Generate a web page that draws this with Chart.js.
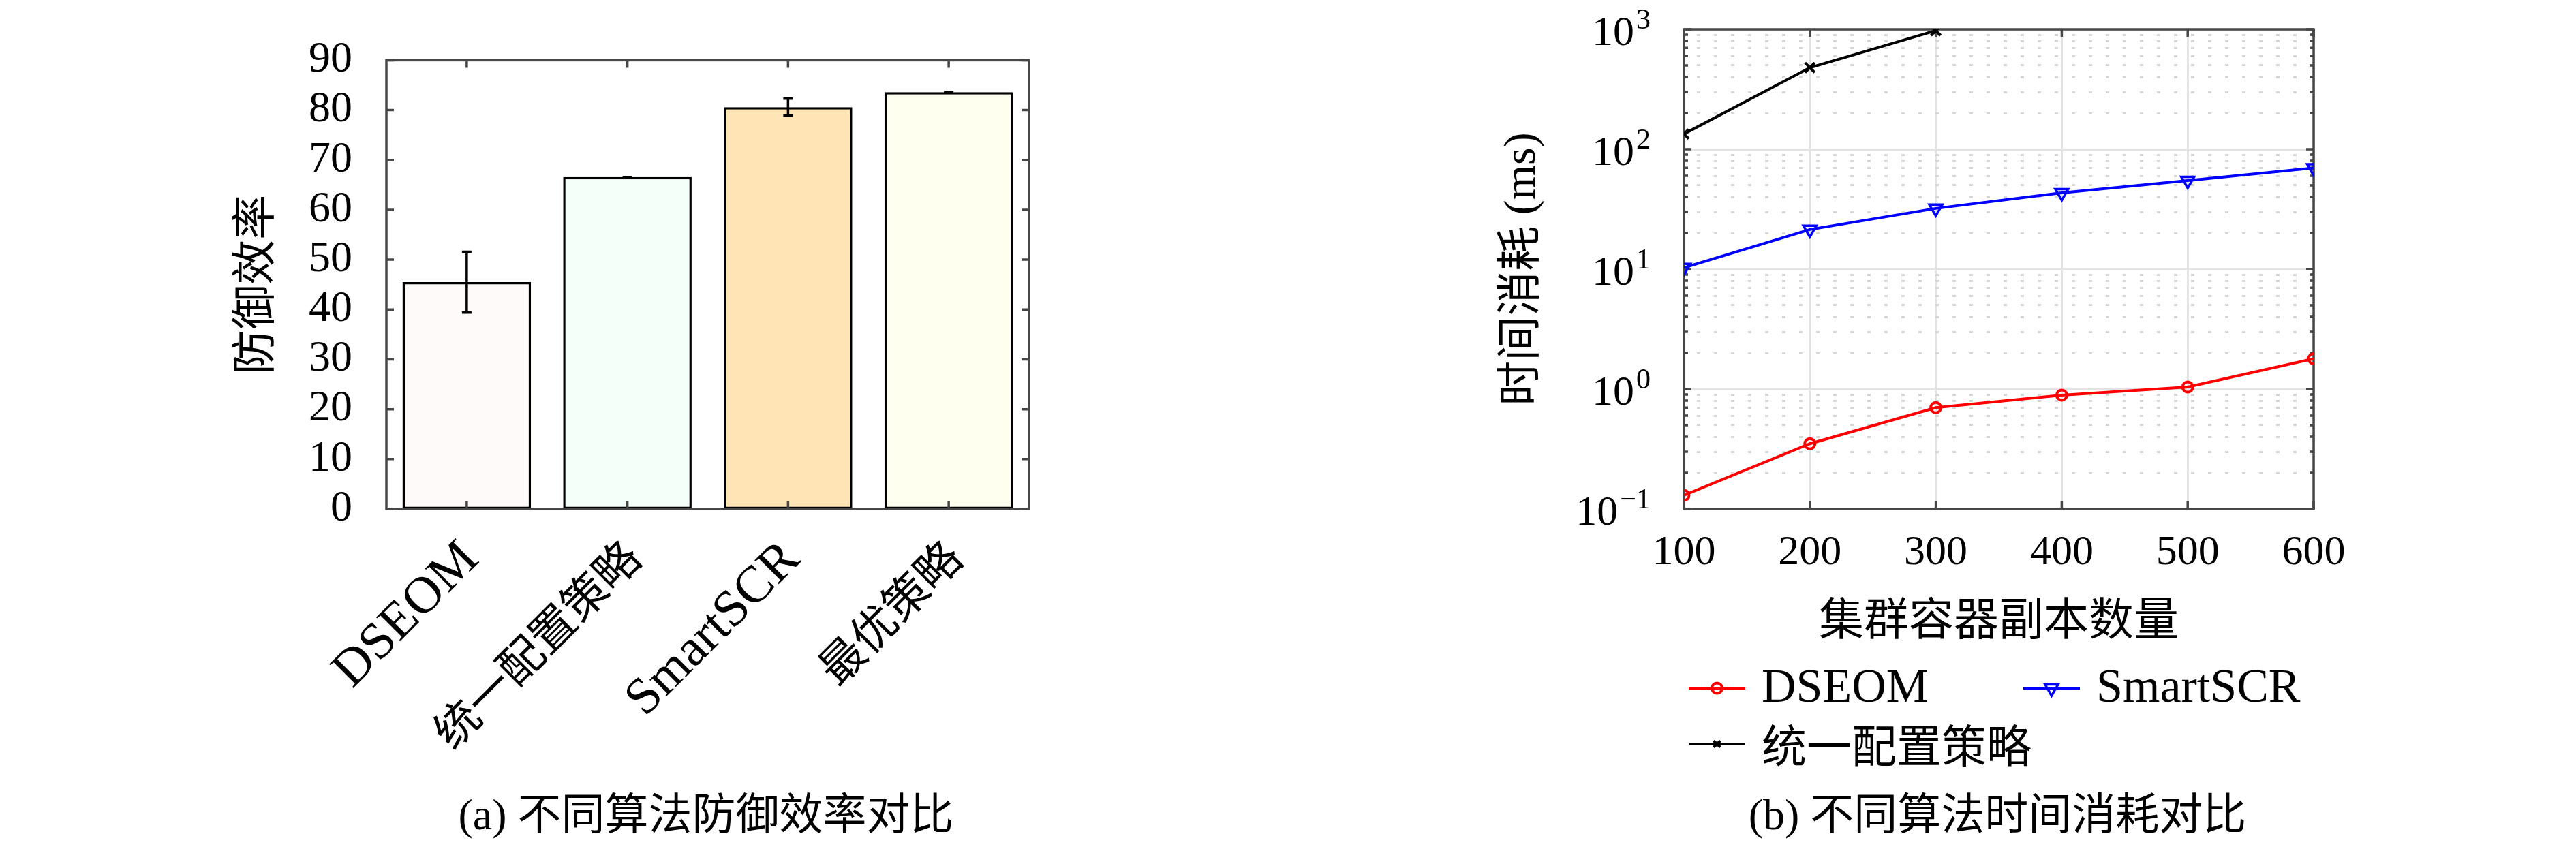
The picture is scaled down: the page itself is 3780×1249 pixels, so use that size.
<!DOCTYPE html>
<html><head><meta charset="utf-8">
<script src="https://cdn.jsdelivr.net/npm/chart.js@4.4.1/dist/chart.umd.min.js"></script>
<style>
html,body{margin:0;padding:0;background:#fff;width:3780px;height:1249px;overflow:hidden;}
canvas{position:absolute;top:0;}
#c1{left:0;} #c2{left:1890px;}
.cap{position:absolute;font-family:'Liberation Serif','Noto Sans CJK SC';font-size:64px;color:#000;white-space:nowrap;transform:translate(-50%,-50%);line-height:1;}
</style></head><body>
<canvas id="c1" width="1890" height="1249"></canvas>
<canvas id="c2" width="1890" height="1249"></canvas>
<div class="cap" style="left:1036px;top:1196px">(a) 不同算法防御效率对比</div>
<div class="cap" style="left:2931px;top:1196px">(b) 不同算法时间消耗对比</div>
<script>
// ---- data: chart (a) ----
const barCategories = ['DSEOM', '统一配置策略', 'SmartSCR', '最优策略'];
const barValues = [45.5, 66.6, 80.6, 83.6];
const barErrors = [6.1, 0, 1.7, 0];
const barColors = ['#FFFAFA', '#F5FFFA', '#FFE4B5', '#FFFFF0'];
const yLabelA = '防御效率';
// ---- data: chart (b) ----
const replicaCounts = [100, 200, 300, 400, 500, 600];
const dseomTime = [0.13, 0.35, 0.70, 0.89, 1.04, 1.79];
const smartscrTime = [10.3, 21.4, 32.1, 43.3, 54.8, 69.7];
const uniformTime = [134, 479, 975];
const logTickExponents = [-1, 0, 1, 2, 3];
const seriesNames = ['DSEOM', 'SmartSCR', '统一配置策略'];

const AXC = '#474747';
const SERIF = "'Liberation Serif', 'Noto Sans CJK SC'";
const CJK = "'Noto Sans CJK SC'";
const isCJK = s => /[\u4e00-\u9fff]/.test(s);

// ---------- Chart (a) ----------
const errorBarsA = {
  id: 'errorBarsA',
  afterDatasetsDraw(chart) {
    const meta = chart.getDatasetMeta(0), y = chart.scales.y, ctx = chart.ctx;
    ctx.save(); ctx.strokeStyle = '#000'; ctx.lineWidth = 3.5;
    meta.data.forEach((bar, i) => {
      const v = barValues[i], e = barErrors[i];
      const yt = y.getPixelForValue(v + e), yb = y.getPixelForValue(v - e);
      const h = 7;
      ctx.beginPath();
      ctx.moveTo(bar.x, yt); ctx.lineTo(bar.x, yb);
      ctx.moveTo(bar.x - h, yt); ctx.lineTo(bar.x + h, yt);
      ctx.moveTo(bar.x - h, yb); ctx.lineTo(bar.x + h, yb);
      ctx.stroke();
    });
    ctx.restore();
  }
};
const frameA = {
  id: 'frameA',
  afterDatasetsDraw(chart) {
    const {ctx, chartArea: a, scales: {x, y}} = chart;
    ctx.save(); ctx.strokeStyle = AXC; ctx.lineWidth = 3.5;
    ctx.beginPath();
    y.ticks.forEach(t => {
      const py = y.getPixelForValue(t.value);
      ctx.moveTo(a.left, py); ctx.lineTo(a.left + 11, py);
      ctx.moveTo(a.right, py); ctx.lineTo(a.right - 11, py);
    });
    x.ticks.forEach((t, i) => {
      const px = x.getPixelForTick(i);
      ctx.moveTo(px, a.bottom); ctx.lineTo(px, a.bottom - 11);
      ctx.moveTo(px, a.top); ctx.lineTo(px, a.top + 11);
    });
    ctx.stroke();
    ctx.strokeRect(a.left, a.top, a.width, a.height);
    ctx.restore();
  }
};

new Chart(document.getElementById('c1'), {
  type: 'bar',
  data: {
    labels: barCategories,
    datasets: [{
      data: barValues,
      backgroundColor: barColors,
      borderColor: '#000',
      borderWidth: 3.5,
      borderSkipped: false,
      barPercentage: 0.8,
      categoryPercentage: 1.0
    }]
  },
  options: {
    responsive: false, animation: false, devicePixelRatio: 1,
    layout: {padding: {left: 331, top: 39, right: 380, bottom: 0}},
    plugins: {legend: {display: false}, tooltip: {enabled: false}},
    scales: {
      x: {
        type: 'category', offset: true,
        grid: {display: false, drawTicks: false, tickLength: 0},
        border: {display: false},
        ticks: {
          minRotation: 45, maxRotation: 45, autoSkip: false,
          padding: 30, labelOffset: 6, color: '#000',
          font: ctx => {
            const s = barCategories[ctx.index] || '';
            return isCJK(s) ? {family: CJK, size: 66} : {family: SERIF, size: 76};
          }
        },
        afterFit: s => { s.height = 502; }
      },
      y: {
        min: 0, max: 90,
        grid: {display: false, drawTicks: false, tickLength: 0},
        border: {display: false},
        ticks: {stepSize: 10, autoSkip: false, padding: 50, color: '#000', font: {family: SERIF, size: 64}},
        title: {display: true, text: yLabelA, color: '#000', font: {family: CJK, size: 66}, padding: {top: 0, bottom: 0}},
        afterFit: s => { s.width = 236; }
      }
    }
  },
  plugins: [errorBarsA, frameA]
});

// ---------- Chart (b) ----------
const isDecade = v => Math.abs(Math.log10(v) - Math.round(Math.log10(v))) < 1e-6;

const frameB = {
  id: 'frameB',
  beforeDatasetsDraw(chart) {
    const {ctx, chartArea: a, scales: {x, y}} = chart;
    ctx.save(); ctx.strokeStyle = AXC; ctx.lineWidth = 3.5;
    ctx.beginPath();
    y.ticks.forEach(t => {
      const py = y.getPixelForValue(t.value);
      const L = isDecade(t.value) ? 11 : 6;
      ctx.moveTo(a.left, py); ctx.lineTo(a.left + L, py);
      ctx.moveTo(a.right, py); ctx.lineTo(a.right - L, py);
    });
    x.ticks.forEach(t => {
      const px = x.getPixelForValue(t.value);
      ctx.moveTo(px, a.bottom); ctx.lineTo(px, a.bottom - 11);
      ctx.moveTo(px, a.top); ctx.lineTo(px, a.top + 11);
    });
    ctx.stroke();
    ctx.strokeRect(a.left, a.top, a.width, a.height);
    ctx.restore();
  },
  afterDraw(chart) {
    const {ctx, chartArea: a, scales: {y}} = chart;
    ctx.save();
    ctx.fillStyle = '#000';
    ctx.textBaseline = 'alphabetic';
    const rightX = a.left - 49;
    logTickExponents.forEach(e => {
      const py = y.getPixelForValue(Math.pow(10, e));
      const expStr = e < 0 ? '\u2212' + Math.abs(e) : String(e);
      ctx.font = "42px 'Liberation Serif'";
      const ew = ctx.measureText(expStr).width;
      ctx.font = "62px 'Liberation Serif'";
      const bw = ctx.measureText('10').width;
      const bx = rightX - ew - 3 - bw;
      ctx.fillText('10', bx, py + 23);
      ctx.font = "42px 'Liberation Serif'";
      ctx.fillText(expStr, rightX - ew, py - 1);
    });
    ctx.restore();
  }
};

const legendB = {
  id: 'legendB',
  afterDraw(chart) {
    const ctx = chart.ctx;
    const slots = [[588, 1010], [1079, 1010], [588, 1092]];
    chart.data.datasets.forEach((ds, i) => {
      const [lx, ly] = slots[i];
      ctx.save();
      ctx.strokeStyle = ds.borderColor; ctx.lineWidth = ds.borderWidth;
      ctx.beginPath(); ctx.moveTo(lx, ly); ctx.lineTo(lx + 83, ly); ctx.stroke();
      ctx.lineWidth = ds.pointBorderWidth;
      ctx.fillStyle = 'rgba(0,0,0,0)';
      Chart.helpers.drawPoint(ctx, {
        pointStyle: ds.pointStyle, radius: ds.legendRadius, rotation: ds.pointRotation || 0,
        borderWidth: ds.pointBorderWidth
      }, lx + 41.5, ly);
      ctx.fillStyle = '#000';
      ctx.textBaseline = 'middle';
      ctx.font = isCJK(ds.label) ? "66px 'Noto Sans CJK SC'" : "70px 'Liberation Serif'";
      ctx.fillText(ds.label, lx + 107, ly + 2);
      ctx.restore();
    });
  }
};

const pts = ys => ys.map((v, i) => ({x: replicaCounts[i], y: v}));

new Chart(document.getElementById('c2'), {
  type: 'line',
  data: {
    datasets: [
      {label: seriesNames[0], data: pts(dseomTime), borderColor: '#ff0000', borderWidth: 4,
       pointStyle: 'circle', pointRadius: 7.5, legendRadius: 7.5, pointBorderWidth: 4,
       pointBackgroundColor: 'rgba(0,0,0,0)', pointBorderColor: '#ff0000', fill: false, tension: 0},
      {label: seriesNames[1], data: pts(smartscrTime), borderColor: '#0000ff', borderWidth: 4,
       pointStyle: 'triangle', pointRotation: 180, pointRadius: 11, legendRadius: 11, pointBorderWidth: 3.5,
       pointBackgroundColor: 'rgba(0,0,0,0)', pointBorderColor: '#0000ff', fill: false, tension: 0},
      {label: seriesNames[2], data: pts(uniformTime), borderColor: '#000000', borderWidth: 4,
       pointStyle: 'crossRot', pointRadius: 10, legendRadius: 7, pointBorderWidth: 4,
       pointBackgroundColor: 'rgba(0,0,0,0)', pointBorderColor: '#000000', fill: false, tension: 0}
    ]
  },
  options: {
    responsive: false, animation: false, devicePixelRatio: 1,
    layout: {padding: {left: 305, top: 43, right: 385, bottom: 0}},
    plugins: {legend: {display: false}, tooltip: {enabled: false}},
    scales: {
      x: {
        type: 'linear', min: 100, max: 600,
        grid: {color: '#e3e3e3', lineWidth: 3, drawTicks: false, tickLength: 0},
        border: {display: false},
        ticks: {stepSize: 100, padding: 28, color: '#000', font: {family: SERIF, size: 62}},
        title: {display: true, text: '集群容器副本数量', color: '#000', font: {family: CJK, size: 66}, padding: {top: 0, bottom: 302}},
        afterFit: s => { s.height = 502; }
      },
      y: {
        type: 'logarithmic', min: 0.1, max: 1000,
        afterBuildTicks: s => {
          s.ticks = s.ticks.filter(t => {
            const p = Math.pow(10, Math.floor(Math.log10(t.value) + 1e-9));
            const m = t.value / p;
            return Math.abs(m - Math.round(m)) < 1e-6 && Math.round(m) >= 1 && Math.round(m) <= 9;
          });
        },
        grid: {
          color: c => (c.tick && isDecade(c.tick.value)) ? '#e3e3e3' : '#d6d6d6',
          lineWidth: 3, drawTicks: false, tickLength: 0
        },
        border: {
          display: false,
          dash: c => (c.tick && !isDecade(c.tick.value)) ? [5, 20] : [],
          dashOffset: 6
        },
        ticks: {display: false, autoSkip: false},
        title: {display: true, text: '时间消耗 (ms)', color: '#000', font: {family: SERIF, size: 66}, padding: {top: 0, bottom: 0}},
        afterFit: s => { s.width = 276; }
      }
    }
  },
  plugins: [frameB, legendB]
});
</script>
</body></html>
